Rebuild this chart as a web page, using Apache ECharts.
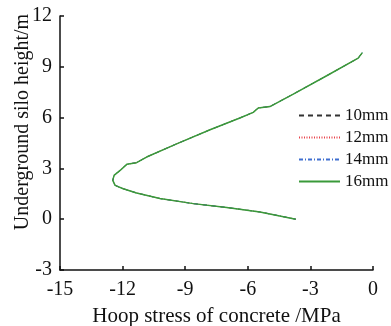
<!DOCTYPE html>
<html>
<head>
<meta charset="utf-8">
<script src="https://cdn.jsdelivr.net/npm/echarts@6/dist/echarts.min.js"></script>
<style>
  html, body { margin: 0; padding: 0; background: #fff; }
  #chart { width: 391px; height: 326px; }
</style>
</head>
<body>
<div id="chart"></div>
<script>
// 图例名称（钢筋直径）
var seriesNames = ['10mm', '12mm', '14mm', '16mm'];
// 高度 (m)
var heights = [0, 0.43, 0.69, 0.92, 1.22, 1.55, 1.80, 2.0, 2.29, 2.59, 2.88, 3.24, 3.34, 3.67, 4.45, 5.28, 5.98, 6.31, 6.57, 6.65, 7.39, 8.47, 9.51, 9.84];
// 环向应力 (MPa)，四条曲线几乎重合
var stress10 = [-3.7, -5.42, -7.01, -8.61, -10.21, -11.33, -11.97, -12.36, -12.47, -12.41, -12.12, -11.8, -11.33, -10.85, -9.41, -7.81, -6.38, -5.74, -5.5, -4.94, -3.82, -2.22, -0.71, -0.51];
var stress12 = stress10.slice();
var stress14 = stress10.slice();
var stress16 = stress10.slice();
var xTicks = [-15, -12, -9, -6, -3, 0];
var yTicks = [-3, 0, 3, 6, 9, 12];

var font = '"Liberation Serif", "Times New Roman", serif';

function pairs(xs) {
  return xs.map(function (x, i) { return [x, heights[i]]; });
}

var styles = [
  { color: '#333333', type: [5, 4], width: 1 },
  { color: '#e8424a', type: [1, 1.5], width: 1 },
  { color: '#3f6fd0', type: [4, 2, 1, 2], width: 1 },
  { color: '#3a9a3a', type: 'solid', width: 1.5 }
];
var allData = [stress10, stress12, stress14, stress16];

var chart = echarts.init(document.getElementById('chart'));
chart.setOption({
  animation: false,
  backgroundColor: '#fff',
  grid: { left: 60, right: 18, top: 16, bottom: 56, outerBoundsMode: 'none', containLabel: false },
  legend: {
    orient: 'vertical',
    left: 298,
    top: 107,
    padding: 0,
    itemWidth: 41,
    itemHeight: 14,
    itemGap: 5,
    itemStyle: { opacity: 0 },
    textStyle: { fontFamily: font, fontSize: 17, color: '#111' },
    data: seriesNames
  },
  xAxis: {
    type: 'value',
    min: xTicks[0],
    max: xTicks[xTicks.length - 1],
    interval: 3,
    axisLine: { onZero: false, lineStyle: { color: '#111', width: 1.5 } },
    axisTick: { inside: true, length: 4, lineStyle: { color: '#111', width: 1.5 } },
    axisLabel: { fontFamily: font, fontSize: 20, color: '#111', margin: 10 },
    splitLine: { show: false },
    name: 'Hoop stress of concrete /MPa',
    nameLocation: 'middle',
    nameGap: 36,
    nameTextStyle: { fontFamily: font, fontSize: 21, color: '#111' }
  },
  yAxis: {
    type: 'value',
    min: yTicks[0],
    max: yTicks[yTicks.length - 1],
    interval: 3,
    axisLine: { onZero: false, lineStyle: { color: '#111', width: 1.5 } },
    axisTick: { inside: true, length: 4, lineStyle: { color: '#111', width: 1.5 } },
    axisLabel: { fontFamily: font, fontSize: 20, color: '#111', margin: 8 },
    splitLine: { show: false }
  },
  graphic: [{
    type: 'text',
    x: 23,
    y: 122,
    rotation: Math.PI / 2,
    style: {
      text: 'Underground silo height/m',
      font: '20px ' + font,
      fill: '#111',
      textAlign: 'center',
      textVerticalAlign: 'middle'
    }
  }],
  series: seriesNames.map(function (name, i) {
    return {
      name: name,
      type: 'line',
      symbol: 'none',
      smooth: false,
      color: styles[i].color,
      lineStyle: styles[i],
      data: pairs(allData[i])
    };
  })
});
</script>
</body>
</html>
